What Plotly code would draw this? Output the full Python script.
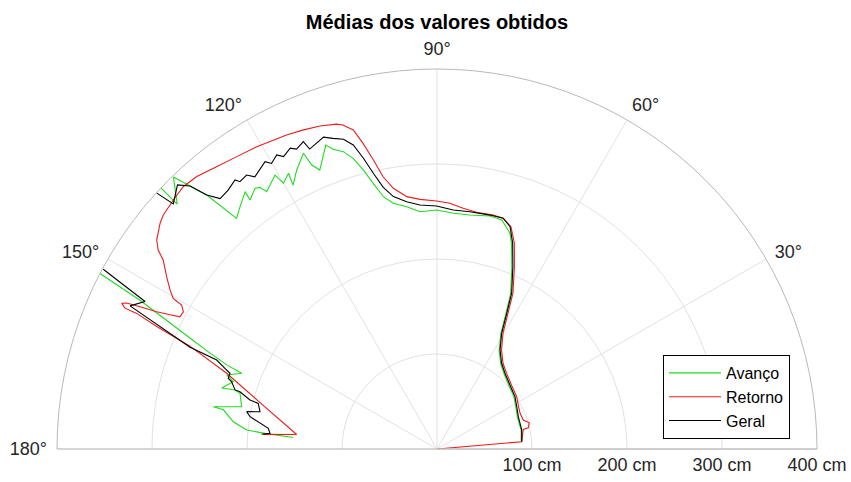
import plotly.graph_objects as go

# Sonar sweep averages: angle in degrees, distance in cm (None = reading beyond 400 cm)
avanco_theta = [5.2, 12.5, 17.4, 22.0, 28.0, 34.0, 41.5, 48.3, 53.2, 57.7, 61.0, 63.0, 64.6,
                67.6, 70.0, 71.3, 74.2, 77.2, 82.0, 86.0, 90.1, 94.1, 97.1, 100.1, 102.0,
                103.5, 104.8, 106.1, 107.5, 109.1, 110.1, 112.8, 113.8, 114.3, 116.7, 118.6,
                118.3, 120.0, 120.6, 123.5, 124.1, 124.9, 126.9, 126.7, 129.1, 131.0, 132.2,
                133.3, 134.1, 136.7, 136.6, 144.0, 152.5, 153.4, 155.9, 157.1, 158.2, 158.8,
                160.6, 161.7, 164.2, 163.7, 164.2, 167.8, 169.3, 169.6, 172.4, 174.3, 174.8,
                175.4]
avanco_r = [89.0, 90.8, 90.6, 91.2, 94.0, 97.8, 101.0, 106.0, 112.0, 122.5, 138.5, 159.6, 180.6,
            206.7, 229.4, 239.7, 250.5, 251.5, 248.7, 248.7, 251.6, 250.4, 257.0, 262.7, 271.5,
            287.6, 303.8, 318.4, 328.2, 333.9, 340.7, 318.5, 326.7, 341.6, 328.7, 316.4,
            329.7, 323.1, 335.0, 324.8, 332.6, 334.7, 327.8, 337.9, 328.7, 321.6, 360.9,
            381.8, 398.6, 375.8, 400.0, None, 400.0, 349.7, 283.0, 259.3, 238.4, 220.5,
            234.7, 225.8, 235.5, 221.5, 215.5, 210.4, 239.6, 228.6, 216.3, 201.3, 181.8,
            151.8]

retorno_theta = [0.0, 4.9, 12.8, 13.1, 15.9, 18.6, 23.4, 27.4, 33.3, 40.7, 47.4, 52.4, 56.9,
                 60.3, 62.4, 64.0, 67.0, 69.4, 71.6, 74.0, 76.5, 80.5, 83.8, 87.0, 90.1, 93.9,
                 96.8, 99.5, 101.2, 102.4, 103.6, 104.7, 106.2, 107.2, 109.9, 112.7, 115.6,
                 118.5, 120.8, 124.4, 128.0, 131.4, 134.0, 136.6, 139.5, 140.8, 143.3, 144.5,
                 145.4, 147.5, 149.2, 150.3, 150.6, 151.6, 152.8, 153.3, 153.9, 154.4, 154.8,
                 155.2, 155.7, 155.7, 156.4, 157.4, 160.2, 165.3, 174.1, 175.2]
retorno_r = [0.0, 89.5, 93.1, 98.7, 101.0, 95.8, 95.2, 96.7, 100.4, 103.4, 108.2, 113.9, 124.4,
             140.2, 161.2, 182.4, 208.5, 231.4, 246.6, 252.6, 253.3, 252.7, 254.9, 259.0, 261.1,
             263.4, 267.5, 278.2, 292.1, 311.5, 331.0, 347.2, 355.1, 358.0, 361.6, 364.1,
             366.4, 368.2, 370.5, 373.0, 377.0, 382.3, 384.2, 381.8, 379.0, 376.1, 368.0,
             360.5, 350.1, 337.4, 327.1, 319.7, 308.5, 303.5, 304.3, 314.5, 328.5, 346.7,
             361.1, 365.6, 360.3, 346.9, 321.9, 281.7, 235.3, 192.6, 148.5, 183.4]

geral_theta = [4.9, 12.6, 17.2, 21.7, 27.9, 33.9, 41.3, 48.1, 53.0, 57.5, 60.8, 62.8, 64.4, 67.4,
               69.8, 71.8, 74.0, 77.2, 82.1, 86.1, 90.1, 94.0, 97.0, 99.8, 101.6, 103.0, 104.2,
               105.4, 106.8, 108.5, 110.0, 113.0, 113.5, 115.1, 116.0, 117.7, 118.6, 120.1,
               120.9, 123.8, 124.8, 126.4, 126.9, 128.9, 130.9, 132.2, 133.2, 134.5, 137.1,
               137.6, 144.0, 151.7, 153.2, 155.0, 157.6, 158.0, 159.2, 159.9, 161.3, 161.9,
               163.7, 163.8, 165.3, 165.7, 168.1, 168.9, 170.2, 173.0, 174.6, 175.2]
geral_r = [89.5, 91.4, 91.5, 92.1, 95.0, 98.9, 102.2, 107.1, 113.0, 123.5, 139.5, 160.6, 181.8,
           207.8, 230.7, 246.3, 252.7, 252.5, 252.2, 252.2, 255.8, 257.4, 262.3, 269.6, 281.2,
           297.9, 315.7, 331.9, 340.6, 344.8, 349.3, 343.0, 352.8, 348.6, 352.3, 347.6, 352.5,
           347.4, 352.5, 344.7, 351.2, 349.6, 354.1, 350.1, 348.7, 360.9, 379.8, 389.8, 378.9,
           399.4, None, 399.0, 344.3, 356.5, 281.2, 250.1, 238.8, 232.0, 232.0, 227.4,
           221.5, 216.0, 203.5, 194.2, 190.4, 204.1, 199.7, 178.9, 176.6, 185.2]

angle_ticks = [0, 30, 60, 90, 120, 150, 180]
angle_labels = ["", "30°", "60°", "90°", "120°", "150°", "180°"]
radius_ticks = [100, 200, 300, 400]
radius_labels = ["100 cm", "200 cm", "300 cm", "400 cm"]

FONT = "Arial, Liberation Sans, Helvetica, sans-serif"
TEXT = "#262626"

fig = go.Figure()
series = [
    ("Avanço", avanco_theta, avanco_r, "#1fdc1f"),
    ("Retorno", retorno_theta, retorno_r, "#ec1c1c"),
    ("Geral", geral_theta, geral_r, "#000000"),
]
for name, th, rr, col in series:
    fig.add_trace(go.Scatterpolar(
        theta=th, r=rr, mode="lines", name=name,
        line=dict(color=col, width=1.1), connectgaps=False,
    ))

fig.update_layout(
    width=851, height=482, autosize=False,
    margin=dict(l=0, r=0, t=0, b=0),
    paper_bgcolor="white", plot_bgcolor="white",
    font=dict(family=FONT, color=TEXT, size=18),
    title=dict(text="<b>Médias dos valores obtidos</b>", x=0.5135, xanchor="center",
               y=0.955, yanchor="middle", font=dict(size=20, color="#000000", family=FONT)),
    polar=dict(
        domain=dict(x=[57 / 851, 817 / 851], y=[33 / 482, 413 / 482]),
        sector=[0, 180],
        bgcolor="white",
        angularaxis=dict(
            direction="counterclockwise", rotation=0,
            tickmode="array", tickvals=angle_ticks, ticktext=angle_labels,
            showgrid=True, gridcolor="#e2e2e2", gridwidth=1,
            showline=True, linecolor="#b9b9b9", linewidth=1,
            ticks="outside", ticklen=6, tickcolor="rgba(0,0,0,0)",
            tickfont=dict(size=18, color=TEXT, family=FONT),
        ),
        radialaxis=dict(
            range=[0, 400], angle=0, side="clockwise",
            tickmode="array", tickvals=radius_ticks, ticktext=radius_labels,
            showgrid=True, gridcolor="#e2e2e2", gridwidth=1,
            showline=True, linecolor="#c8c8c8", linewidth=1,
            ticks="", tickfont=dict(size=18, color=TEXT, family=FONT),
        ),
    ),
    showlegend=True,
    legend=dict(
        x=663 / 851, y=1 - 355 / 482, xanchor="left", yanchor="top",
        bgcolor="white", bordercolor="#000000", borderwidth=1,
        font=dict(size=16, color="#000000", family=FONT),
        tracegroupgap=0, itemwidth=52,
    ),
)

fig.write_html("out.html")
